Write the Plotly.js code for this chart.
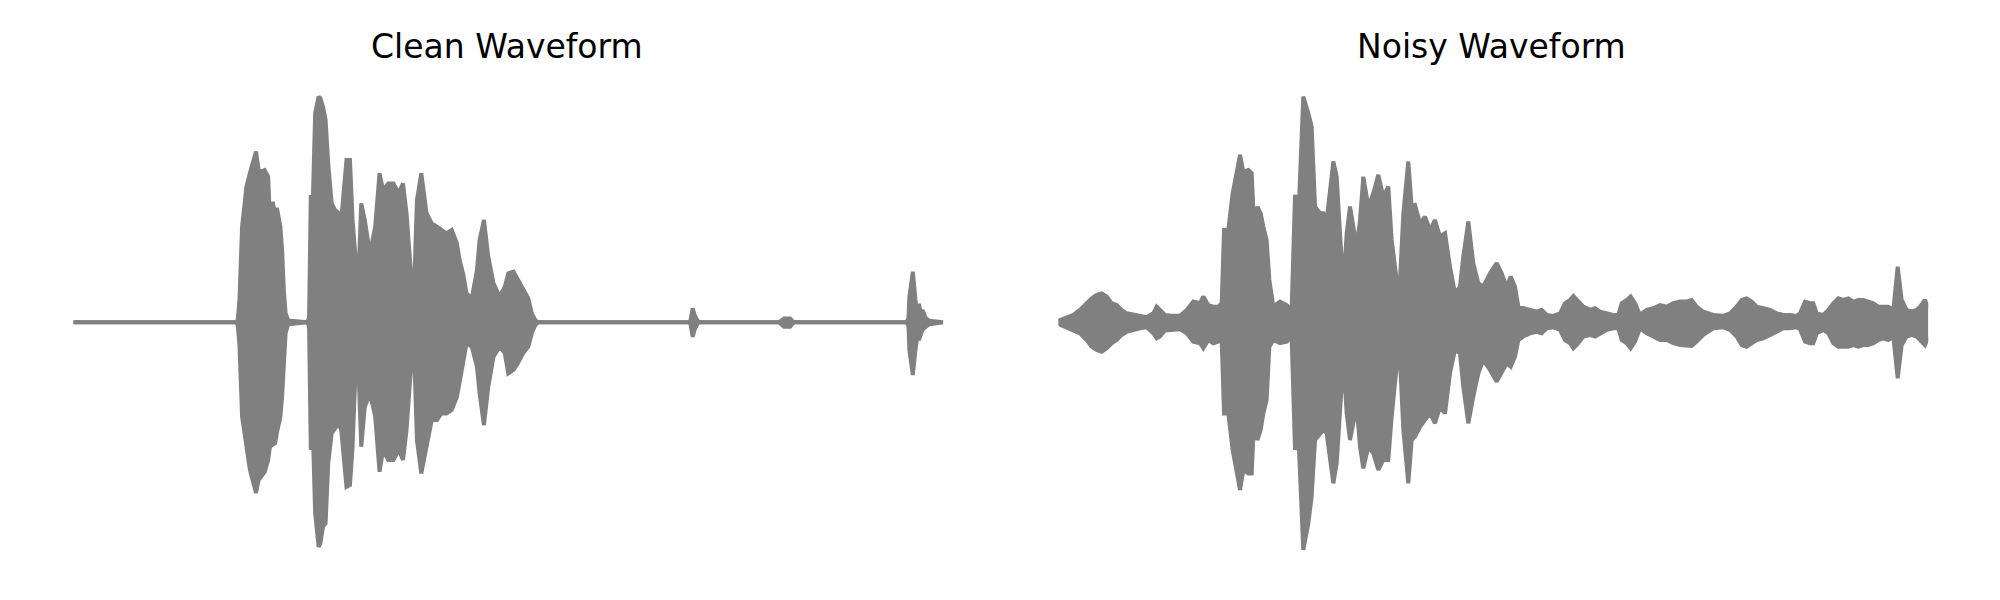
<!DOCTYPE html>
<html>
<head>
<meta charset="utf-8">
<script src="https://cdn.plot.ly/plotly-3.0.1.min.js"></script>
<style>
  html, body { margin: 0; padding: 0; background: #ffffff; }
  #chart { width: 2000px; height: 600px; }
</style>
</head>
<body>
<div id="chart"></div>
<script>
// Panel titles
const panelTitles = ["Clean Waveform", "Noisy Waveform"];

// Clean waveform: time (fraction of clip) and amplitude envelope (upper / lower)
const cleanTime = [0.000, 0.187, 0.189, 0.191, 0.194, 0.199, 0.203, 0.207, 0.210, 0.213,
  0.216, 0.220, 0.224, 0.227, 0.229, 0.232, 0.234, 0.238, 0.240, 0.242,
  0.244, 0.247, 0.269, 0.271, 0.273, 0.274, 0.278, 0.282, 0.284, 0.287,
  0.290, 0.293, 0.297, 0.301, 0.305, 0.308, 0.314, 0.318, 0.321, 0.324,
  0.327, 0.331, 0.335, 0.341, 0.347, 0.352, 0.356, 0.362, 0.368, 0.374,
  0.379, 0.383, 0.387, 0.391, 0.395, 0.400, 0.406, 0.412, 0.418, 0.423,
  0.429, 0.435, 0.441, 0.444, 0.448, 0.452, 0.458, 0.464, 0.467, 0.472,
  0.477, 0.483, 0.490, 0.496, 0.500, 0.506, 0.511, 0.517, 0.523, 0.527,
  0.531, 0.534, 0.709, 0.712, 0.714, 0.717, 0.719, 0.811, 0.817, 0.824,
  0.828, 0.958, 0.960, 0.961, 0.965, 0.968, 0.970, 0.972, 0.974, 0.976,
  0.980, 0.984, 1.000];
const cleanUpper = [0, 0, 0.010, 0.097, 0.416, 0.590, 0.649, 0.706, 0.742, 0.662,
  0.655, 0.662, 0.633, 0.358, 0.524, 0.475, 0.497, 0.416, 0.314, 0.140,
  0.040, 0.008, 0, 0.020, 0.553, 0.343, 0.909, 0.981, 0.974, 0.937,
  0.880, 0.691, 0.517, 0.488, 0.474, 0.445, 0.706, 0.706, 0.445, 0.300,
  0.126, 0.517, 0.445, 0.300, 0.416, 0.648, 0.575, 0.604, 0.604, 0.561,
  0.604, 0.474, 0.242, 0.068, 0.532, 0.648, 0.474, 0.430, 0.416, 0.401,
  0.387, 0.401, 0.343, 0.271, 0.213, 0.126, 0.104, 0.227, 0.358, 0.445,
  0.285, 0.170, 0.111, 0.155, 0.213, 0.220, 0.184, 0.140, 0.104, 0.039,
  0.010, 0, 0, 0.061, 0.032, 0.010, 0, 0, 0.017, 0.017,
  0, 0, 0.020, 0.111, 0.220, 0.097, 0.053, 0.080, 0.039, 0.053,
  0.017, 0.007, 0];
const cleanLower = [0, 0, -0.012, -0.099, -0.410, -0.541, -0.642, -0.699, -0.742, -0.686,
  -0.671, -0.650, -0.599, -0.512, -0.533, -0.525, -0.481, -0.410, -0.323, -0.177,
  -0.047, -0.008, 0, -0.020, -0.555, -0.294, -0.830, -0.976, -0.961, -0.889,
  -0.874, -0.613, -0.483, -0.461, -0.439, -0.468, -0.715, -0.707, -0.541, -0.251,
  -0.120, -0.541, -0.367, -0.309, -0.410, -0.650, -0.555, -0.599, -0.599, -0.555,
  -0.599, -0.468, -0.251, -0.048, -0.512, -0.657, -0.541, -0.425, -0.425, -0.396,
  -0.396, -0.381, -0.323, -0.251, -0.178, -0.091, -0.106, -0.193, -0.309, -0.447,
  -0.280, -0.150, -0.106, -0.135, -0.222, -0.207, -0.178, -0.135, -0.106, -0.048,
  -0.012, 0, 0, -0.063, -0.033, -0.010, 0, 0, -0.019, -0.019,
  0, 0, -0.020, -0.120, -0.229, -0.120, -0.063, -0.077, -0.048, -0.033,
  -0.019, -0.009, 0];

// Noisy waveform: time (fraction of clip) and amplitude envelope (upper / lower)
const noisyTime = [0.0000, 0.0115, 0.0173, 0.0249, 0.0326, 0.0384, 0.0441, 0.0498, 0.0556, 0.0613,
  0.0671, 0.0728, 0.0786, 0.0862, 0.0939, 0.1016, 0.1092, 0.1131, 0.1169, 0.1226,
  0.1284, 0.1399, 0.1476, 0.1552, 0.1629, 0.1667, 0.1724, 0.1782, 0.1839, 0.1878,
  0.1905, 0.1954, 0.2004, 0.2050, 0.2089, 0.2127, 0.2184, 0.2223, 0.2261, 0.2288,
  0.2326, 0.2357, 0.2395, 0.2426, 0.2472, 0.2548, 0.2625, 0.2682, 0.2721, 0.2759,
  0.2816, 0.2874, 0.2912, 0.2951, 0.3008, 0.3046, 0.3085, 0.3161, 0.3200, 0.3238,
  0.3276, 0.3315, 0.3353, 0.3391, 0.3430, 0.3468, 0.3506, 0.3564, 0.3621, 0.3678,
  0.3736, 0.3793, 0.3832, 0.3889, 0.3920, 0.3966, 0.4023, 0.4062, 0.4100, 0.4158,
  0.4215, 0.4272, 0.4330, 0.4387, 0.4445, 0.4502, 0.4560, 0.4617, 0.4655, 0.4713,
  0.4770, 0.4828, 0.4885, 0.4962, 0.5039, 0.5096, 0.5154, 0.5200, 0.5249, 0.5288,
  0.5345, 0.5422, 0.5499, 0.5556, 0.5613, 0.5690, 0.5767, 0.5824, 0.5882, 0.5920,
  0.5977, 0.6035, 0.6112, 0.6169, 0.6226, 0.6303, 0.6380, 0.6437, 0.6476, 0.6533,
  0.6579, 0.6629, 0.6686, 0.6763, 0.6839, 0.6916, 0.6993, 0.7069, 0.7146, 0.7223,
  0.7280, 0.7338, 0.7414, 0.7529, 0.7644, 0.7721, 0.7797, 0.7855, 0.7912, 0.7970,
  0.8027, 0.8104, 0.8180, 0.8257, 0.8334, 0.8410, 0.8487, 0.8525, 0.8583, 0.8640,
  0.8678, 0.8717, 0.8794, 0.8851, 0.8908, 0.8966, 0.9023, 0.9081, 0.9138, 0.9196,
  0.9253, 0.9311, 0.9368, 0.9426, 0.9483, 0.9541, 0.9598, 0.9648, 0.9694, 0.9751,
  0.9809, 0.9866, 0.9905, 0.9962, 1.0000];
const noisyUpper = [0.007, 0.025, 0.032, 0.054, 0.083, 0.104, 0.119, 0.126, 0.112, 0.083,
  0.075, 0.054, 0.039, 0.032, 0.025, 0.022, 0.039, 0.068, 0.054, 0.032,
  0.030, 0.028, 0.054, 0.090, 0.083, 0.112, 0.075, 0.068, 0.068, 0.083,
  0.401, 0.401, 0.561, 0.648, 0.728, 0.655, 0.662, 0.648, 0.329, 0.503,
  0.474, 0.416, 0.358, 0.184, 0.068, 0.090, 0.075, 0.054, 0.554, 0.445,
  0.981, 0.909, 0.851, 0.503, 0.474, 0.474, 0.445, 0.699, 0.633, 0.387,
  0.155, 0.387, 0.503, 0.416, 0.329, 0.445, 0.633, 0.503, 0.561, 0.641,
  0.546, 0.590, 0.358, 0.184, 0.126, 0.474, 0.699, 0.503, 0.510, 0.430,
  0.459, 0.401, 0.445, 0.372, 0.387, 0.242, 0.126, 0.155, 0.286, 0.438,
  0.257, 0.170, 0.155, 0.213, 0.257, 0.213, 0.155, 0.199, 0.155, 0.068,
  0.061, 0.054, 0.046, 0.054, 0.032, 0.028, 0.039, 0.083, 0.097, 0.114,
  0.090, 0.068, 0.054, 0.061, 0.046, 0.039, 0.032, 0.032, 0.083, 0.097,
  0.112, 0.083, 0.032, 0.054, 0.061, 0.075, 0.068, 0.083, 0.090, 0.090,
  0.097, 0.068, 0.046, 0.032, 0.028, 0.039, 0.068, 0.097, 0.104, 0.090,
  0.068, 0.061, 0.054, 0.039, 0.032, 0.032, 0.028, 0.039, 0.090, 0.083,
  0.083, 0.039, 0.032, 0.054, 0.083, 0.104, 0.097, 0.104, 0.090, 0.097,
  0.097, 0.090, 0.083, 0.068, 0.068, 0.068, 0.054, 0.242, 0.097, 0.054,
  0.046, 0.054, 0.068, 0.097, 0.061];
const noisyLower = [-0.007, -0.026, -0.033, -0.048, -0.077, -0.106, -0.120, -0.128, -0.113, -0.091,
  -0.077, -0.055, -0.041, -0.033, -0.026, -0.022, -0.048, -0.070, -0.062, -0.036,
  -0.033, -0.030, -0.048, -0.084, -0.091, -0.113, -0.077, -0.091, -0.084, -0.077,
  -0.396, -0.396, -0.555, -0.657, -0.729, -0.642, -0.657, -0.657, -0.338, -0.512,
  -0.468, -0.396, -0.338, -0.106, -0.077, -0.091, -0.084, -0.062, -0.555, -0.483,
  -0.990, -0.874, -0.758, -0.512, -0.483, -0.468, -0.483, -0.700, -0.613, -0.381,
  -0.164, -0.396, -0.512, -0.439, -0.367, -0.541, -0.635, -0.541, -0.570, -0.642,
  -0.599, -0.599, -0.410, -0.193, -0.106, -0.468, -0.700, -0.512, -0.497, -0.454,
  -0.425, -0.396, -0.439, -0.367, -0.396, -0.222, -0.120, -0.135, -0.280, -0.439,
  -0.323, -0.222, -0.164, -0.207, -0.258, -0.222, -0.178, -0.193, -0.149, -0.077,
  -0.062, -0.048, -0.041, -0.048, -0.026, -0.022, -0.033, -0.077, -0.091, -0.113,
  -0.091, -0.062, -0.055, -0.062, -0.048, -0.033, -0.026, -0.026, -0.077, -0.091,
  -0.113, -0.084, -0.026, -0.048, -0.062, -0.077, -0.077, -0.091, -0.099, -0.099,
  -0.103, -0.084, -0.055, -0.026, -0.022, -0.033, -0.062, -0.099, -0.106, -0.091,
  -0.077, -0.070, -0.055, -0.041, -0.026, -0.026, -0.022, -0.030, -0.084, -0.091,
  -0.091, -0.048, -0.033, -0.048, -0.091, -0.106, -0.106, -0.106, -0.099, -0.106,
  -0.099, -0.099, -0.091, -0.077, -0.070, -0.077, -0.062, -0.243, -0.099, -0.062,
  -0.055, -0.062, -0.077, -0.099, -0.062];

const waveColor = "#808080";

function envelopeTraces(t, up, lo, xa, ya) {
  return [
    { x: t, y: up, xaxis: xa, yaxis: ya, type: "scatter", mode: "lines",
      line: { color: waveColor, width: 4 }, hoverinfo: "skip" },
    { x: t, y: lo, xaxis: xa, yaxis: ya, type: "scatter", mode: "lines",
      line: { color: waveColor, width: 4 }, fill: "tonexty", fillcolor: waveColor, hoverinfo: "skip" }
  ];
}

const data = [].concat(
  envelopeTraces(cleanTime, cleanUpper, cleanLower, "x", "y"),
  envelopeTraces(noisyTime, noisyUpper, noisyLower, "x2", "y2")
);

const yRange = [-1.2074, 1.4013];
const hidden = { visible: false, showgrid: false, zeroline: false, fixedrange: true };

const layout = {
  width: 2000, height: 600,
  margin: { l: 0, r: 0, t: 0, b: 0, pad: 0 },
  paper_bgcolor: "#ffffff", plot_bgcolor: "#ffffff",
  showlegend: false,
  font: { family: "DejaVu Sans", color: "#000000" },
  xaxis: Object.assign({ domain: [0.03665, 0.47165], range: [0, 1], anchor: "y" }, hidden),
  yaxis: Object.assign({ domain: [0, 1], range: yRange, anchor: "x" }, hidden),
  xaxis2: Object.assign({ domain: [0.52915, 0.96415], range: [0, 1], anchor: "y2" }, hidden),
  yaxis2: Object.assign({ domain: [0, 1], range: yRange, anchor: "x2" }, hidden),
  annotations: [
    { text: panelTitles[0], xref: "paper", yref: "paper", x: 0.25375, y: 1 - 46 / 600,
      xanchor: "center", yanchor: "middle", showarrow: false,
      font: { family: "DejaVu Sans", size: 33, color: "#000000" } },
    { text: panelTitles[1], xref: "paper", yref: "paper", x: 0.74585, y: 1 - 46 / 600,
      xanchor: "center", yanchor: "middle", showarrow: false,
      font: { family: "DejaVu Sans", size: 33, color: "#000000" } }
  ]
};

Plotly.newPlot("chart", data, layout, { displayModeBar: false, staticPlot: true });
</script>
</body>
</html>
